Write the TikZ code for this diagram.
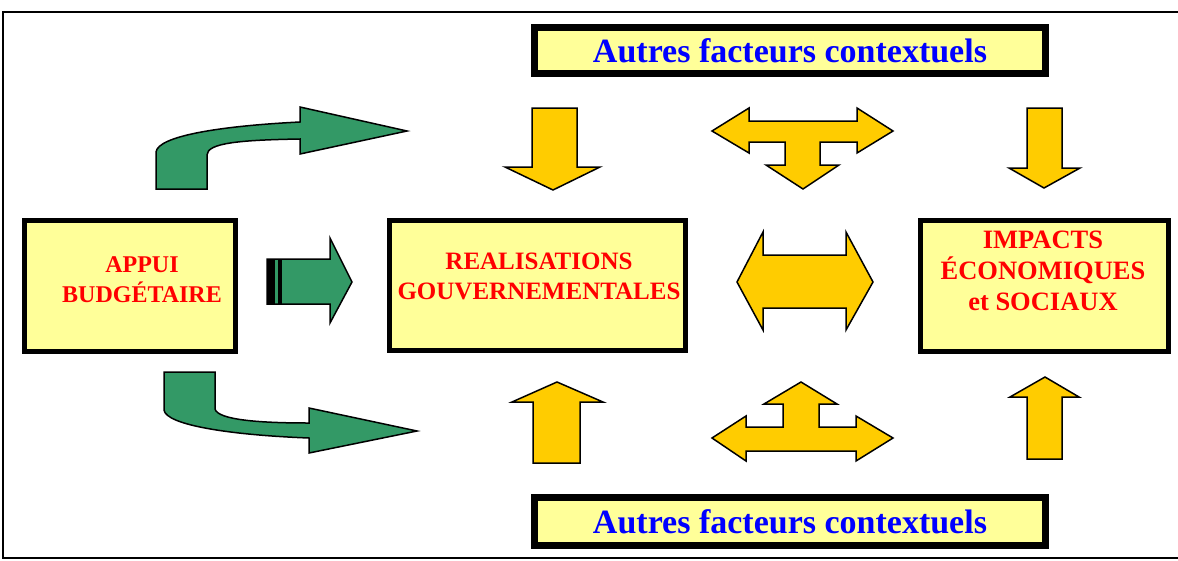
\documentclass[tikz,border=0pt]{standalone}
\usepackage{fontspec}
\setmainfont{Liberation Serif}
\definecolor{boxyellow}{HTML}{FFFF99}
\definecolor{arrowyellow}{HTML}{FFCC00}
\definecolor{arrowgreen}{HTML}{339966}
\definecolor{txtred}{HTML}{FF0000}
\definecolor{txtblue}{HTML}{0000FF}
\begin{document}
\begin{tikzpicture}[x=1pt,y=-1pt,
  mainbox/.style={draw=black,line width=5pt,fill=boxyellow,inner sep=0pt},
  maintext/.style={inner sep=0pt,font=\fontsize{25}{30}\selectfont\bfseries,text=txtred,align=center},
  ctxbox/.style={draw=black,line width=7pt,fill=boxyellow,inner sep=0pt,
    font=\fontsize{34}{38}\selectfont\bfseries,text=txtblue},
  yarrow/.style={draw=black,line width=1.5pt,fill=arrowyellow,line join=miter},
  garrow/.style={draw=black,line width=1.5pt,fill=arrowgreen,line join=miter}]
\useasboundingbox (0,0) rectangle (1178,560);
\draw[line width=2pt] (3,12) rectangle (1190,558);

% boxes
\node[ctxbox,minimum width=511pt,minimum height=46pt] (ctxtop) at (790,50.5) {Autres facteurs contextuels};
\node[ctxbox,minimum width=511pt,minimum height=48pt] (ctxbot) at (790,521.5) {Autres facteurs contextuels};
\node[mainbox,minimum width=211pt,minimum height=131pt] (appui) at (130,286) {};
\node[mainbox,minimum width=296pt,minimum height=130pt] (real) at (537.5,285.5) {};
\node[mainbox,minimum width=248pt,minimum height=131pt] (imp) at (1044.5,286) {};
\node[maintext,font=\fontsize{24}{30}\selectfont\bfseries] (appuitxt) at (142,280) {APPUI\\BUDGÉTAIRE};
\node[maintext] (realtxt) at (539,276) {REALISATIONS\\GOUVERNEMENTALES};
\node[maintext,font=\fontsize{26.5}{31}\selectfont\bfseries] (imptxt) at (1043,271) {IMPACTS\\ÉCONOMIQUES\\et SOCIAUX};

% green arrows
\draw[garrow] (156,189) -- (156,152) .. controls (158,136) and (220,126) .. (300,122)
  -- (300,107) -- (407,131) -- (300,154) -- (300,139)
  .. controls (240,140) and (207,143) .. (207,155) -- (207,189) -- cycle;
\draw[garrow] (164,372) -- (215,372) -- (215,409)
  .. controls (218,420) and (260,423) .. (309,423)
  -- (309,408) -- (417,431) -- (309,453) -- (309,438)
  .. controls (230,435) and (166,425) .. (164,410) -- cycle;
\draw[garrow] (267,259) -- (330,259) -- (330,238) -- (352,282) -- (330,323) -- (330,304) -- (267,304) -- cycle;
\fill[black] (267,259) rectangle (275,304);
\fill[black] (278,259) rectangle (282,304);

% yellow arrows
\draw[yarrow] (532,108) -- (577,108) -- (577,167) -- (600,167) -- (553,190) -- (505,167) -- (532,167) -- cycle;
\draw[yarrow] (1027,108) -- (1062,108) -- (1062,168) -- (1080,168) -- (1044,188) -- (1009,168) -- (1027,168) -- cycle;
\draw[yarrow] (533,463) -- (580,463) -- (580,402) -- (603,402) -- (557,382) -- (512,402) -- (533,402) -- cycle;
\draw[yarrow] (1027,459) -- (1062,459) -- (1062,397) -- (1079,397) -- (1045,377) -- (1010,397) -- (1027,397) -- cycle;

\draw[yarrow] (712,131) -- (749,108) -- (749,121) -- (857,121) -- (857,108) -- (893,131)
  -- (857,153) -- (857,142) -- (820,142) -- (820,165) -- (839,165) -- (803,189)
  -- (766,165) -- (785,165) -- (785,142) -- (749,142) -- (749,153) -- cycle;
\draw[yarrow] (712,438) -- (746,416) -- (746,427) -- (783,427) -- (783,404) -- (764,404)
  -- (801,382) -- (837,404) -- (819,404) -- (819,427) -- (856,427) -- (856,416)
  -- (893,438) -- (856,461) -- (856,451) -- (746,451) -- (746,461) -- cycle;
\draw[yarrow] (737,282) -- (763,232) -- (763,255) -- (846,255) -- (846,232) -- (873,282)
  -- (846,330) -- (846,308) -- (763,308) -- (763,330) -- cycle;
\end{tikzpicture}
\end{document}
